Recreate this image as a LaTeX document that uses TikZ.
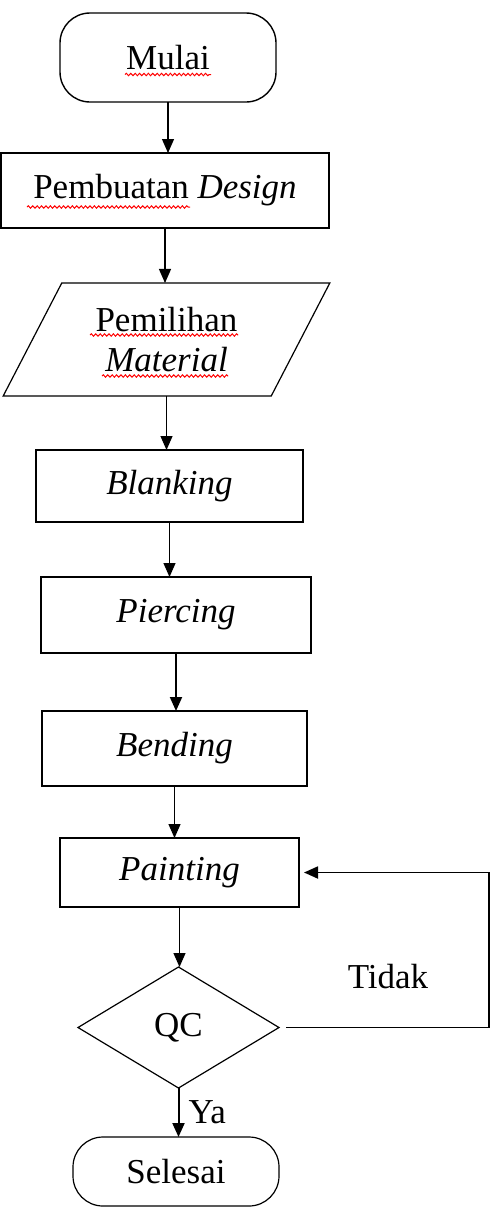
\documentclass[tikz,border=0pt]{standalone}
\usepackage{fontspec}
\setmainfont{Liberation Serif}
\usetikzlibrary{arrows.meta,calc,positioning,shapes.geometric,decorations.pathmorphing}

\begin{document}
\begin{tikzpicture}[x=0.5pt, y=-0.5pt,
    every node/.style={font=\fontsize{17.5}{19}\selectfont, outer sep=0pt, inner sep=2pt},
    terminal/.style={draw, rectangle, rounded corners=15pt, line width=0.7pt},
    process/.style={draw, rectangle, line width=0.7pt},
    arr/.style={-{Triangle[width=6pt,length=7pt]}, line width=0.6pt},
    squiggle/.style={red, line width=0.5pt, decorate, decoration={snake, amplitude=0.6pt, segment length=2.2pt}}]
  \useasboundingbox (0,0) rectangle (491,1227);

  % Start and design
  \node[terminal, minimum width=108pt, minimum height=44.5pt] (mulai) at (168,57.5) {Mulai};
  \node[process, line width=1pt, minimum width=164pt, minimum height=37.5pt] (design) at (165,190.5) {Pembuatan \textit{Design}};

  % Material input
  \node[draw, trapezium, trapezium left angle=60, trapezium right angle=120, trapezium stretches=true,
        line width=0.6pt, minimum width=163.5pt, minimum height=56.5pt, align=center] (material) at (166.5,339.5)
        {Pemilihan\\[1pt]\textit{Material}};

  % Process steps
  \node[process, line width=0.6pt, minimum width=133.5pt, minimum height=36pt] (blanking) at (169.5,486) {\textit{Blanking}};
  \node[process, line width=1pt, minimum width=135pt, minimum height=38pt] (piercing) at (176,615) {\textit{Piercing}};
  \node[process, line width=1pt, minimum width=132.5pt, minimum height=37.5pt] (bending) at (174.5,748.5) {\textit{Bending}};
  \node[process, line width=1pt, minimum width=119.5pt, minimum height=34.5pt] (painting) at (179.5,872.5) {\textit{Painting}};

  % Check and end
  \node[draw, diamond, line width=0.6pt, minimum width=100.5pt, minimum height=60.5pt] (qc) at (178.5,1027.5) {QC};
  \node[terminal, line width=0.6pt, minimum width=103pt, minimum height=34.5pt] (selesai) at (176,1171.5) {Selesai};

  % Spell-check marks
  \draw[squiggle] (125,74.5) -- (211,74.5);
  \draw[squiggle] (27,207) -- (190,207);
  \draw[squiggle] (90,335) -- (238,335);
  \draw[squiggle] (102,376) -- (228,376);

  % Flow
  \draw[arr] (mulai.south) -- (mulai.south |- design.north);
  \draw[arr] (design.south) -- (design.south |- material.north);
  \draw[arr] (material.south) -- (material.south |- blanking.north);
  \draw[arr] (blanking.south) -- (blanking.south |- piercing.north);
  \draw[arr, line width=1pt] (piercing.south) -- (piercing.south |- bending.north);
  \draw[arr] (bending.south) -- (bending.south |- painting.north);
  \draw[arr] (painting.south) -- (painting.south |- qc.north);
  \draw[arr, line width=1pt] (qc.south) -- (qc.south |- selesai.north) node[midway, right=3pt] (ya) {Ya};

  % Loop back
  \coordinate (loop) at (489,1027.5);
  \draw[arr, line width=0.9pt, shorten >=2.5pt] ([xshift=3.5pt]qc.east) -- (loop) |- (painting.east);
  \node (tidak) at (388,977) {Tidak};
\end{tikzpicture}
\end{document}
